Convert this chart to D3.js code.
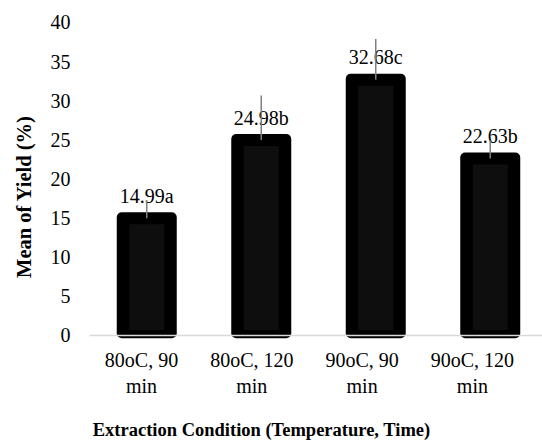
<!DOCTYPE html>
<html>
<head>
<meta charset="utf-8">
<script src="https://cdn.jsdelivr.net/npm/d3@7"></script>
<style>
  html, body { margin: 0; padding: 0; background: #fff; }
  svg { display: block; }
</style>
</head>
<body>
<svg id="chart" width="542" height="443" font-family="'Times New Roman', 'Liberation Serif', 'DejaVu Serif', serif"></svg>
<script>
const categories = ["80oC, 90 min", "80oC, 120 min", "90oC, 90 min", "90oC, 120 min"];
const values = [14.99, 24.98, 32.68, 22.63];
const letters = ["a", "b", "c", "b"];
const errors = [2.3, 5.7, 5.2, 2.3];
const yTicks = [0, 5, 10, 15, 20, 25, 30, 35, 40];

const FONT = "'Times New Roman', 'Liberation Serif', 'DejaVu Serif', serif";
const svg = d3.select("#chart");
const W = 542, H = 443;

const x = d3.scaleBand().domain(categories).range([89.5, 547.5]).padding(0);
const xl = d3.scaleBand().domain(categories).range([86.35, 527.55]).padding(0);
const y = d3.scaleLinear().domain([0, 40]).range([335.5, 22.5]);

// Y axis labels
const yAxis = svg.append("g")
  .attr("transform", "translate(89.5,0)")
  .call(d3.axisLeft(y).tickValues(yTicks).tickSize(0).tickPadding(19).tickFormat(d3.format("d")))
  .attr("font-family", FONT).attr("font-size", 20);
yAxis.select(".domain").remove();
yAxis.selectAll("text").attr("fill", "#000").attr("font-family", FONT).attr("font-size", 20);

// Bars
const data = categories.map((c, i) => ({ c, v: values[i], l: letters[i], e: errors[i] }));
const barW = 60, stroke = 12.5;
const bars = svg.append("g").selectAll("g").data(data).join("g");
bars.append("rect")
  .attr("x", d => x(d.c) + x.bandwidth() / 2 - barW / 2)
  .attr("y", d => y(d.v) - 6)
  .attr("width", barW)
  .attr("height", d => y(0) + 2.8 - (y(d.v) - 6))
  .attr("rx", 5).attr("ry", 5)
  .attr("fill", "#000");
bars.append("rect")
  .attr("x", d => x(d.c) + x.bandwidth() / 2 - barW / 2 + stroke)
  .attr("y", d => y(d.v) + 6)
  .attr("width", barW - 2 * stroke)
  .attr("height", d => y(0) - 5.5 - (y(d.v) + 6))
  .attr("fill", "#0e0e0e");

// Baseline
svg.append("line")
  .attr("x1", 89.5).attr("x2", W)
  .attr("y1", y(0)).attr("y2", y(0))
  .attr("stroke", "#d9d9d9").attr("stroke-width", 1.5);

// Value labels
svg.append("g").selectAll("text").data(data).join("text")
  .attr("x", d => x(d.c) + x.bandwidth() / 2)
  .attr("y", d => y(d.v) - 15.5)
  .attr("text-anchor", "middle")
  .attr("font-family", FONT).attr("font-size", 20).attr("fill", "#000")
  .text(d => d.v.toFixed(2) + d.l);

// Error bars
svg.append("g").selectAll("line").data(data).join("line")
  .attr("x1", d => x(d.c) + x.bandwidth() / 2)
  .attr("x2", d => x(d.c) + x.bandwidth() / 2)
  .attr("y1", d => y(d.v))
  .attr("y2", d => y(d.v + d.e))
  .attr("stroke", "#808080").attr("stroke-width", 1.5);

// X axis labels (two lines)
const xAxis = svg.append("g")
  .attr("transform", "translate(0,335.5)")
  .call(d3.axisBottom(xl).tickSize(0).tickPadding(0))
  .attr("font-family", FONT).attr("font-size", 20);
xAxis.select(".domain").remove();
xAxis.selectAll("text").each(function(d) {
  const t = d3.select(this);
  const idx = d.lastIndexOf(" ");
  const l1 = d.slice(0, idx), l2 = d.slice(idx + 1);
  t.text(null).attr("y", 0).attr("dy", null)
    .attr("font-family", FONT).attr("font-size", 20).attr("fill", "#000");
  t.append("tspan").attr("x", 0).attr("y", 31).text(l1);
  t.append("tspan").attr("x", 0).attr("y", 57.8).text(l2);
});

// Axis titles
svg.append("text")
  .attr("x", 261.5).attr("y", 436)
  .attr("text-anchor", "middle")
  .attr("font-family", FONT).attr("font-size", 18.5).attr("font-weight", "bold")
  .text("Extraction Condition (Temperature, Time)");

svg.append("text")
  .attr("transform", "translate(31,197) rotate(-90)")
  .attr("text-anchor", "middle")
  .attr("font-family", FONT).attr("font-size", 20.5).attr("font-weight", "bold")
  .text("Mean of Yield (%)");
</script>
</body>
</html>
